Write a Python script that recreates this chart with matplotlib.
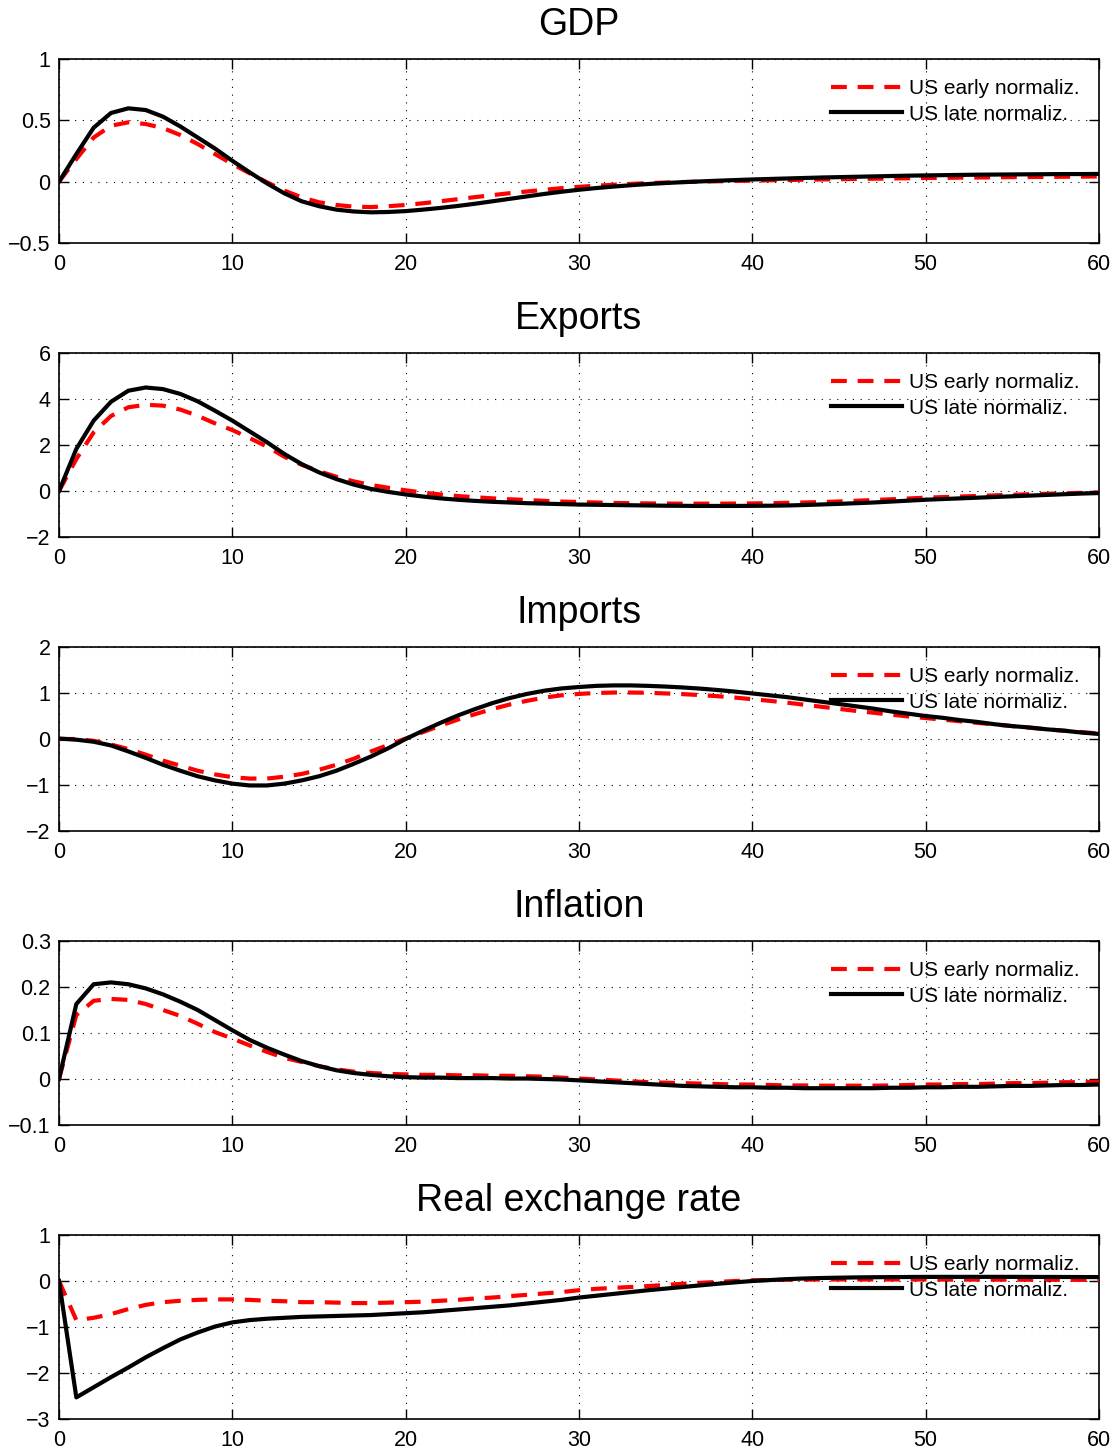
"""
Impulse responses to the monetary shock: US early vs late normalization.

Five stacked panels (GDP, exports, imports, inflation, real exchange rate),
60 quarters each, saved as out.png.
"""

import matplotlib.pyplot as plt
import numpy as np

plt.rcParams["font.family"] = ["Liberation Sans", "DejaVu Sans"]

EARLY_COLOR = "#ff0000"
LATE_COLOR = "#000000"
LABELS = ["US early normaliz.", "US late normaliz."]

horizon = list(range(61))

# ---------------------------------------------------------------------------
# Data (one value per quarter 0..60)
# ---------------------------------------------------------------------------

gdp_early = [0.0, 0.185, 0.36, 0.456, 0.484, 0.47, 0.437, 0.38, 0.307, 0.225,
             0.144, 0.068, -0.005, -0.073, -0.128, -0.168, -0.19, -0.204, -0.207, -0.2,
             -0.19, -0.176, -0.16, -0.143, -0.126, -0.11, -0.094, -0.08, -0.066, -0.053,
             -0.042, -0.033, -0.025, -0.018, -0.012, -0.007, -0.003, 0.0, 0.003, 0.006,
             0.008, 0.011, 0.013, 0.016, 0.018, 0.02, 0.022, 0.024, 0.026, 0.028,
             0.03, 0.031, 0.033, 0.034, 0.035, 0.037, 0.038, 0.039, 0.04, 0.041,
             0.042]
gdp_late = [0.0, 0.225, 0.44, 0.56, 0.598, 0.584, 0.53, 0.45, 0.36, 0.27,
            0.17, 0.076, -0.014, -0.095, -0.16, -0.2, -0.228, -0.243, -0.25, -0.247,
            -0.24, -0.228, -0.214, -0.198, -0.18, -0.16, -0.14, -0.12, -0.1, -0.082,
            -0.066, -0.052, -0.04, -0.029, -0.019, -0.011, -0.004, 0.002, 0.008, 0.013,
            0.018, 0.022, 0.026, 0.03, 0.034, 0.037, 0.04, 0.043, 0.046, 0.049,
            0.051, 0.053, 0.055, 0.057, 0.058, 0.059, 0.06, 0.061, 0.062, 0.062,
            0.063]

exports_early = [0.0, 1.39, 2.55, 3.26, 3.64, 3.75, 3.71, 3.54, 3.27, 2.94,
                 2.65, 2.3, 1.93, 1.49, 1.14, 0.86, 0.62, 0.42, 0.26, 0.14,
                 0.03, -0.07, -0.15, -0.22, -0.27, -0.32, -0.36, -0.39, -0.43, -0.46,
                 -0.48, -0.5, -0.52, -0.53, -0.54, -0.545, -0.55, -0.55, -0.55, -0.545,
                 -0.54, -0.53, -0.515, -0.5, -0.48, -0.455, -0.425, -0.39, -0.36, -0.325,
                 -0.29, -0.265, -0.24, -0.215, -0.19, -0.165, -0.14, -0.12, -0.1, -0.08,
                 -0.06]
exports_late = [0.0, 1.83, 3.06, 3.88, 4.36, 4.5, 4.43, 4.22, 3.9, 3.49,
                3.06, 2.59, 2.12, 1.61, 1.17, 0.81, 0.52, 0.28, 0.09, -0.04,
                -0.15, -0.24, -0.32, -0.38, -0.43, -0.47, -0.5, -0.53, -0.55, -0.57,
                -0.59, -0.6, -0.61, -0.62, -0.63, -0.64, -0.645, -0.65, -0.65, -0.65,
                -0.645, -0.64, -0.63, -0.61, -0.585, -0.56, -0.53, -0.5, -0.46, -0.42,
                -0.38, -0.35, -0.32, -0.29, -0.26, -0.23, -0.2, -0.17, -0.14, -0.11,
                -0.09]

imports_early = [0.0, 0.0, -0.04, -0.12, -0.22, -0.34, -0.47, -0.58, -0.69, -0.77,
                 -0.83, -0.86, -0.86, -0.82, -0.76, -0.67, -0.56, -0.43, -0.27, -0.13,
                 0.01, 0.15, 0.29, 0.42, 0.54, 0.65, 0.75, 0.83, 0.9, 0.95,
                 0.98, 1.0, 1.01, 1.01, 1.005, 0.99, 0.975, 0.955, 0.93, 0.9,
                 0.865, 0.83, 0.79, 0.745, 0.7, 0.655, 0.61, 0.57, 0.53, 0.49,
                 0.455, 0.42, 0.385, 0.35, 0.315, 0.28, 0.245, 0.21, 0.18, 0.15,
                 0.12]
imports_late = [0.01, -0.015, -0.06, -0.14, -0.27, -0.41, -0.56, -0.69, -0.81, -0.9,
                -0.97, -1.01, -1.01, -0.97, -0.9, -0.81, -0.69, -0.54, -0.38, -0.2,
                0.0, 0.18, 0.35, 0.51, 0.65, 0.78, 0.89, 0.98, 1.05, 1.1,
                1.13, 1.155, 1.165, 1.165, 1.155, 1.14, 1.12, 1.095, 1.065, 1.03,
                0.99, 0.95, 0.91, 0.86, 0.81, 0.76, 0.71, 0.66, 0.6, 0.55,
                0.5, 0.46, 0.41, 0.37, 0.32, 0.28, 0.25, 0.21, 0.18, 0.14,
                0.11]

inflation_early = [0.0, 0.139, 0.17, 0.174, 0.172, 0.163, 0.15, 0.137, 0.12, 0.102,
                   0.088, 0.073, 0.059, 0.046, 0.037, 0.028, 0.021, 0.016, 0.013, 0.011,
                   0.01, 0.009, 0.009, 0.008, 0.008, 0.007, 0.007, 0.006, 0.005, 0.003,
                   0.001, -0.001, -0.003, -0.005, -0.007, -0.008, -0.009, -0.01, -0.011, -0.012,
                   -0.012, -0.013, -0.014, -0.014, -0.0145, -0.0145, -0.0145, -0.0145, -0.014, -0.013,
                   -0.012, -0.012, -0.011, -0.011, -0.01, -0.009, -0.009, -0.008, -0.007, -0.007,
                   -0.006]
inflation_late = [0.0, 0.163, 0.206, 0.21, 0.206, 0.197, 0.184, 0.168, 0.15, 0.128,
                  0.106, 0.085, 0.068, 0.053, 0.039, 0.028, 0.019, 0.013, 0.009, 0.006,
                  0.004, 0.003, 0.003, 0.002, 0.002, 0.002, 0.001, 0.001, 0.0, -0.001,
                  -0.003, -0.005, -0.007, -0.009, -0.011, -0.013, -0.015, -0.016, -0.017, -0.018,
                  -0.018, -0.019, -0.019, -0.02, -0.02, -0.02, -0.02, -0.02, -0.019, -0.019,
                  -0.018, -0.018, -0.017, -0.017, -0.016, -0.015, -0.015, -0.014, -0.013, -0.013,
                  -0.012]

rer_early = [0.0, -0.85, -0.8, -0.72, -0.61, -0.52, -0.46, -0.43, -0.41, -0.4,
             -0.4, -0.41, -0.43, -0.44, -0.46, -0.46, -0.47, -0.48, -0.48, -0.47,
             -0.46, -0.45, -0.43, -0.41, -0.38, -0.36, -0.33, -0.3, -0.27, -0.24,
             -0.2, -0.17, -0.15, -0.13, -0.11, -0.085, -0.06, -0.04, -0.02, 0.0,
             0.015, 0.022, 0.028, 0.03, 0.032, 0.033, 0.033, 0.033, 0.033, 0.032,
             0.032, 0.031, 0.03, 0.03, 0.029, 0.028, 0.027, 0.026, 0.026, 0.025,
             0.025]
rer_late = [0.0, -2.53, -2.31, -2.09, -1.88, -1.66, -1.46, -1.27, -1.12, -0.99,
            -0.9, -0.85, -0.82, -0.8, -0.78, -0.77, -0.76, -0.75, -0.74, -0.72,
            -0.7, -0.68, -0.65, -0.62, -0.59, -0.56, -0.53, -0.49, -0.45, -0.41,
            -0.36, -0.32, -0.28, -0.24, -0.2, -0.165, -0.13, -0.095, -0.06, -0.03,
            0.0, 0.02, 0.04, 0.055, 0.065, 0.072, 0.078, 0.082, 0.085, 0.087,
            0.089, 0.09, 0.09, 0.09, 0.09, 0.09, 0.089, 0.088, 0.087, 0.086,
            0.085]

panel_titles = ["GDP", "Exports", "Imports", "Inflation", "Real exchange rate"]
panel_early = [gdp_early, exports_early, imports_early, inflation_early, rer_early]
panel_late = [gdp_late, exports_late, imports_late, inflation_late, rer_late]
panel_yticks = [
    [-0.5, 0, 0.5, 1],
    [-2, 0, 2, 4, 6],
    [-2, -1, 0, 1, 2],
    [-0.1, 0, 0.1, 0.2, 0.3],
    [-3, -2, -1, 0, 1],
]
ytick_labels = [
    ["\u22120.5", "0", "0.5", "1"],
    ["\u22122", "0", "2", "4", "6"],
    ["\u22122", "\u22121", "0", "1", "2"],
    ["\u22120.1", "0", "0.1", "0.2", "0.3"],
    ["\u22123", "\u22122", "\u22121", "0", "1"],
]
xticks = [0, 10, 20, 30, 40, 50, 60]


# ---------------------------------------------------------------------------
# Figure
# ---------------------------------------------------------------------------

W, H = 1120, 1452
fig = plt.figure(figsize=(W / 100, H / 100), dpi=100)

left_px, right_px = 59, 1099
ax_h_px = 184
first_bottom_px = 243
step_px = 294

for i, title in enumerate(panel_titles):
    bottom_px = first_bottom_px + i * step_px
    ax = fig.add_axes([left_px / W, 1 - bottom_px / H,
                       (right_px - left_px) / W, ax_h_px / H])

    ax.plot(horizon, panel_early[i], color=EARLY_COLOR, lw=3.0,
            dashes=(3.8, 2.6), label=LABELS[0], zorder=3)
    ax.plot(horizon, panel_late[i], color=LATE_COLOR, lw=3.0,
            label=LABELS[1], zorder=4)

    yt = panel_yticks[i]
    ax.set_xlim(0, 60)
    ax.set_ylim(yt[0], yt[-1])
    ax.set_xticks(xticks)
    ax.set_xticklabels([str(t) for t in xticks])
    ax.set_yticks(yt)
    ax.set_yticklabels(ytick_labels[i])

    ax.grid(True, color="black", linestyle=(0, (1, 6)), linewidth=0.8, zorder=0)
    ax.tick_params(direction="in", length=7, width=1.0, top=True, right=True,
                   labelsize=15.5, pad=6)
    ax.tick_params(axis="x", pad=8)
    for sp in ax.spines.values():
        sp.set_linewidth(1.2)

    ax.set_title(title, fontsize=27, pad=17)

    ax.legend(loc="upper right", frameon=False, fontsize=15,
              handlelength=3.4, handletextpad=0.3, labelspacing=0.33,
              borderaxespad=0.5, borderpad=0.45)

fig.savefig("out.png", dpi=100)
